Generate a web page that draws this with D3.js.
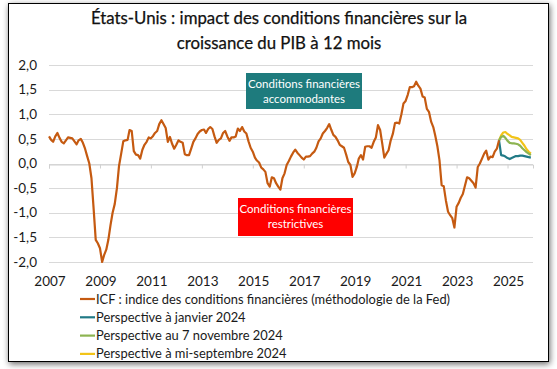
<!DOCTYPE html>
<html><head><meta charset="utf-8">
<script src="https://cdn.jsdelivr.net/npm/d3@7"></script>
<style>
html,body{margin:0;padding:0;background:#fff;}
svg text{font-family:Lato,"Noto Sans",sans-serif;}
</style></head>
<body>
<svg id="chart" width="557" height="369"></svg>
<script>
// ---------------- DATA ----------------
const titleLines = ["États-Unis : impact des conditions financières sur la", "croissance du PIB à 12 mois"];
const yTicks = [-2, -1.5, -1, -0.5, 0, 0.5, 1, 1.5, 2];
const xTickYears = [2007, 2009, 2011, 2013, 2015, 2017, 2019, 2021, 2023, 2025];
const icfStart = [2007, 0]; // Jan 2007, monthly
const icfValues = [
  // 2007
  0.55, 0.48, 0.44, 0.55, 0.62, 0.52, 0.44, 0.41, 0.47, 0.53, 0.52, 0.51,
  // 2008
  0.45, 0.39, 0.47, 0.50, 0.42, 0.30, 0.15, 0.00, -0.30, -0.90, -1.55, -1.62,
  // 2009
  -1.72, -2.00, -1.86, -1.75, -1.55, -1.25, -1.00, -0.82, -0.50, -0.05, 0.20, 0.45,
  // 2010
  0.47, 0.48, 0.68, 0.66, 0.25, 0.18, 0.17, 0.10, 0.28, 0.38, 0.44, 0.53,
  // 2011
  0.51, 0.56, 0.62, 0.66, 0.80, 0.88, 0.80, 0.72, 0.44, 0.54, 0.40, 0.30,
  // 2012
  0.38, 0.47, 0.44, 0.42, 0.19, 0.17, 0.17, 0.30, 0.44, 0.51, 0.60, 0.65,
  // 2013
  0.68, 0.69, 0.62, 0.70, 0.74, 0.70, 0.55, 0.42, 0.48, 0.51, 0.62, 0.66,
  // 2014
  0.55, 0.46, 0.53, 0.53, 0.55, 0.71, 0.66, 0.74, 0.65, 0.61, 0.45, 0.32,
  // 2015
  0.24, 0.12, 0.06, 0.02, -0.08, -0.12, -0.17, -0.40, -0.47, -0.28, -0.30, -0.40,
  // 2016
  -0.47, -0.53, -0.30, -0.20, -0.03, 0.05, 0.14, 0.22, 0.28, 0.22, 0.17, 0.12,
  // 2017
  0.08, 0.14, 0.14, 0.15, 0.20, 0.24, 0.32, 0.45, 0.51, 0.61, 0.66, 0.72,
  // 2018
  0.80, 0.68, 0.58, 0.54, 0.47, 0.38, 0.35, 0.32, 0.18, 0.03, -0.03, -0.27,
  // 2019
  -0.20, -0.07, 0.10, 0.17, 0.08, 0.34, 0.35, 0.35, 0.32, 0.44, 0.53, 0.78,
  // 2020
  0.68, 0.40, 0.12, 0.20, 0.27, 0.47, 0.60, 0.82, 0.83, 0.81, 1.00, 1.22,
  // 2021
  1.27, 1.40, 1.55, 1.55, 1.57, 1.66, 1.58, 1.52, 1.36, 1.34, 1.11, 1.05,
  // 2022
  0.85, 0.74, 0.57, 0.35, 0.07, -0.44, -0.46, -0.75, -0.98, -1.05, -1.11, -1.30,
  // 2023
  -0.88, -0.80, -0.70, -0.62, -0.45, -0.28, -0.30, -0.35, -0.40, -0.49, -0.07, 0.00,
  // 2024 (Jan-Sep)
  0.10, 0.20, 0.26, 0.08, 0.14, 0.13, 0.24, 0.30, 0.47
];
const forecastStart = [2024, 8]; // Sep 2024, monthly
const forecastJan2024 = [0.47, 0.17, 0.16, 0.14, 0.11, 0.09, 0.11, 0.13, 0.15, 0.15, 0.16, 0.16, 0.15, 0.14, 0.13, 0.12];
const forecastNov2024 = [0.47, 0.54, 0.56, 0.52, 0.46, 0.42, 0.41, 0.41, 0.40, 0.39, 0.36, 0.31, 0.27, 0.23, 0.20, 0.17];
const forecastSep2024 = [0.47, 0.57, 0.63, 0.64, 0.60, 0.57, 0.54, 0.53, 0.52, 0.51, 0.48, 0.42, 0.36, 0.29, 0.24, 0.20];
const seriesNames = [
  "ICF : indice des conditions financières (méthodologie de la Fed)",
  "Perspective à janvier 2024",
  "Perspective au 7 novembre 2024",
  "Perspective à mi-septembre 2024"
];
const seriesColors = ["#C55A11", "#217A86", "#8DB451", "#F2C418"];
const boxAccommodantes = ["Conditions financières", "accommodantes"];
const boxRestrictives = ["Conditions financières", "restrictives"];

// ---------------- CHART ----------------
const svg = d3.select("#chart");

const defs = svg.append("defs");
const f = defs.append("filter").attr("id", "shadow").attr("x", "-5%").attr("y", "-5%").attr("width", "110%").attr("height", "110%");
f.append("feGaussianBlur").attr("in", "SourceAlpha").attr("stdDeviation", 3);
f.append("feOffset").attr("dx", 1).attr("dy", 2).attr("result", "b");
f.append("feComponentTransfer").append("feFuncA").attr("type", "linear").attr("slope", 0.6);
const fm = f.append("feMerge");
fm.append("feMergeNode");
fm.append("feMergeNode").attr("in", "SourceGraphic");

svg.append("rect").attr("x", 8.5).attr("y", 3.5).attr("width", 540).attr("height", 358)
  .attr("fill", "#fff").attr("stroke", "#000").attr("stroke-width", 1).attr("filter", "url(#shadow)");

// title
svg.append("g").selectAll("text").data(titleLines).join("text")
  .attr("x", 279).attr("y", (d, i) => 24 + i * 25)
  .attr("text-anchor", "middle").attr("font-size", 16.8).attr("fill", "#111")
  .attr("stroke", "#111").attr("stroke-width", 0.25)
  .text(d => d);

const x = d3.scaleTime().domain([new Date(2007, 0, 1), new Date(2026, 0, 1)]).range([49, 533]);
const y = d3.scaleLinear().domain([-2, 2]).range([262, 65]);

// gridlines
svg.append("g").selectAll("line").data(yTicks).join("line")
  .attr("x1", 49).attr("x2", 533)
  .attr("y1", d => Math.round(y(d)) + 0.5).attr("y2", d => Math.round(y(d)) + 0.5)
  .attr("stroke", "#D9D9D9").attr("stroke-width", 1);

// y labels
svg.append("g").selectAll("text").data(yTicks).join("text")
  .attr("x", 37).attr("y", d => y(d)).attr("dy", "0.35em")
  .attr("text-anchor", "end").attr("font-size", 13.5).attr("fill", "#1a1a1a")
  .text(d => d3.format(".1f")(d).replace(".", ",").replace("−", "-"));

// x axis at zero with tick marks
const xAxis = d3.axisBottom(x)
  .tickValues(xTickYears.map(yr => new Date(yr, 0, 1)))
  .tickSize(4).tickFormat("");
const gx = svg.append("g").attr("transform", `translate(0,${Math.round(y(0)) + 0.5})`).call(xAxis);
gx.select(".domain").attr("stroke", "#D0D0D0");
gx.selectAll(".tick line").attr("stroke", "#D0D0D0");

// x labels at bottom
svg.append("g").selectAll("text").data(xTickYears).join("text")
  .attr("x", d => x(new Date(d, 0, 1)) + 1).attr("y", 286)
  .attr("text-anchor", "middle").attr("font-size", 13.5).attr("fill", "#1a1a1a")
  .text(d => d);

// boxes
function box(x0, y0, w, h, color, lines) {
  svg.append("rect").attr("x", x0).attr("y", y0).attr("width", w).attr("height", h).attr("fill", color);
  svg.append("g").selectAll("text").data(lines).join("text")
    .attr("x", x0 + w / 2).attr("y", (d, i) => y0 + 15 + i * 15)
    .attr("text-anchor", "middle").attr("font-size", 11.5).attr("fill", "#fff").text(d => d);
}
box(246, 73, 116, 36, "#1E7B7D", boxAccommodantes);
box(238, 198, 115, 38, "#FF0000", boxRestrictives);

// lines
const monthDate = (start, i) => new Date(start[0], start[1] + i, 1);
const line = d3.line().x(d => x(d.date)).y(d => y(d.value));
const toPts = (start, arr) => arr.map((v, i) => ({ date: monthDate(start, i), value: v }));

const allSeries = [
  toPts(icfStart, icfValues),
  toPts(forecastStart, forecastJan2024),
  toPts(forecastStart, forecastNov2024),
  toPts(forecastStart, forecastSep2024)
];
[3, 2, 1].forEach(k => {
  svg.append("path").datum(allSeries[k]).attr("d", line)
    .attr("fill", "none").attr("stroke", seriesColors[k]).attr("stroke-width", 2.2)
    .attr("stroke-linejoin", "round");
});
svg.append("path").datum(allSeries[0]).attr("d", line)
  .attr("fill", "none").attr("stroke", seriesColors[0]).attr("stroke-width", 2.2)
  .attr("stroke-linejoin", "round");

// legend
const lg = svg.append("g").selectAll("g").data(seriesNames).join("g")
  .attr("transform", (d, i) => `translate(80,${299 + i * 18.3})`);
lg.append("line").attr("x1", 0).attr("x2", 15).attr("y1", 0).attr("y2", 0)
  .attr("stroke", (d, i) => seriesColors[i]).attr("stroke-width", 2.2);
lg.append("text").attr("x", 16).attr("dy", "0.35em").attr("font-size", 12.9).attr("fill", "#1a1a1a").text(d => d);
</script>
</body></html>
